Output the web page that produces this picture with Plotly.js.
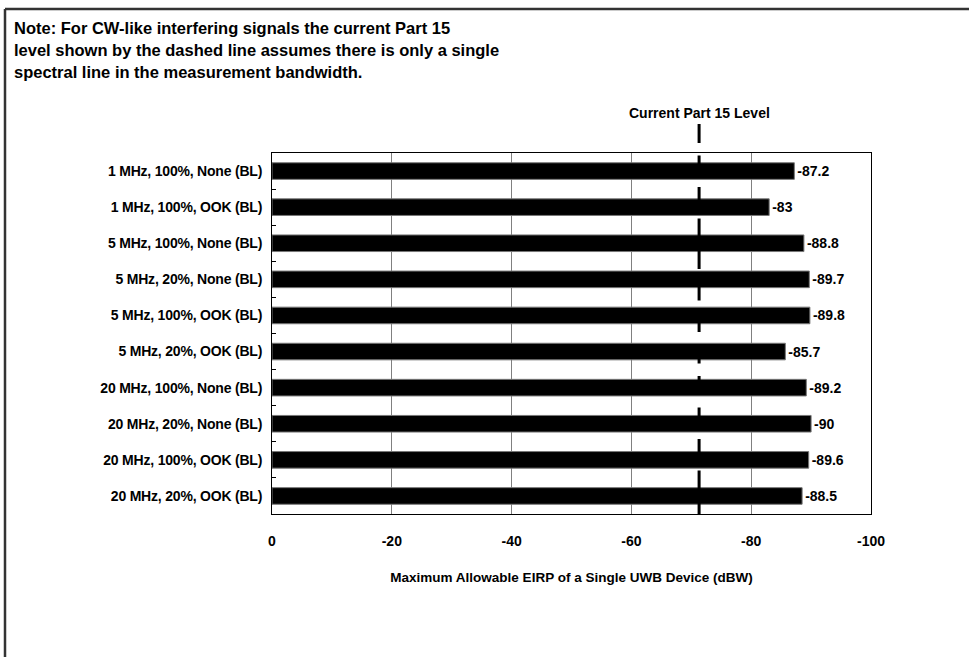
<!DOCTYPE html>
<html>
<head>
<meta charset="utf-8">
<script src="https://cdn.plot.ly/plotly-3.0.1.min.js"></script>
<style>
html,body{margin:0;padding:0;background:#fff;}
#chart{width:969px;height:657px;}
#chart .ytick text{letter-spacing:-0.2px;}
</style>
</head>
<body>
<div id="chart"></div>
<script>
// ---- data ----
const categories = [
  "1 MHz, 100%, None (BL)",
  "1 MHz, 100%, OOK (BL)",
  "5 MHz, 100%, None (BL)",
  "5 MHz, 20%, None (BL)",
  "5 MHz, 100%, OOK (BL)",
  "5 MHz, 20%, OOK (BL)",
  "20 MHz, 100%, None (BL)",
  "20 MHz, 20%, None (BL)",
  "20 MHz, 100%, OOK (BL)",
  "20 MHz, 20%, OOK (BL)"
];
const eirpValues = [-87.2, -83, -88.8, -89.7, -89.8, -85.7, -89.2, -90, -89.6, -88.5];
const part15Level = -71.3;
const xTickValues = [0, -20, -40, -60, -80, -100];
const xTickLabels = ["0", "-20", "-40", "-60", "-80", "-100"];
const noteLines = [
  "Note: For CW-like interfering signals the current Part 15",
  "level shown by the dashed line assumes there is only a single",
  "spectral line in the measurement bandwidth."
];
const part15Label = "Current Part 15 Level";
const xTitle = "Maximum Allowable EIRP of a Single UWB Device (dBW)";

// ---- layout helpers (pixel -> paper) ----
const W = 969, H = 657;
const L = 272, R = 871, T = 153, B = 514;
const px = x => (x - L) / (R - L);
const py = y => (B - y) / (B - T);

const FAM = '"Liberation Sans", Arial, sans-serif';
const bold = size => ({family: FAM, size: size, color: '#000', weight: 'bold'});

const trace = {
  type: 'bar',
  orientation: 'h',
  y: categories,
  x: eirpValues,
  width: 0.46,
  marker: {color: '#000', line: {color: '#777', width: 1}},
  text: eirpValues.map(v => String(v)),
  textposition: 'outside',
  constraintext: 'none',
  cliponaxis: false,
  textfont: bold(14),
  hoverinfo: 'skip'
};

const annotations = noteLines.map((t, i) => ({
  text: t, xref: 'paper', yref: 'paper',
  x: px(12), y: py(28 + 22 * i), xanchor: 'left', yanchor: 'middle',
  showarrow: false, font: bold(16.5)
}));
annotations.push({
  text: part15Label, xref: 'x', yref: 'paper',
  x: part15Level, y: py(113), xanchor: 'center', yanchor: 'middle',
  showarrow: false, font: bold(14)
});

const shapes = [
  {type: 'line', xref: 'paper', yref: 'paper', x0: px(5), x1: px(969), y0: py(9), y1: py(9),
   line: {color: '#333', width: 2.5}},
  {type: 'line', xref: 'paper', yref: 'paper', x0: px(5), x1: px(5), y0: py(9), y1: py(657),
   line: {color: '#333', width: 2.5}},
  {type: 'line', xref: 'x', yref: 'paper', x0: part15Level, x1: part15Level, y0: py(124), y1: 0,
   line: {color: '#000', width: 3, dash: '19px,12.5px'}, layer: 'above'}
];

const layout = {
  width: W, height: H,
  margin: {l: L, r: W - R, t: T, b: H - B, pad: 0},
  paper_bgcolor: '#fff', plot_bgcolor: '#fff',
  font: bold(12),
  showlegend: false,
  xaxis: {
    range: [0, -100],
    tickvals: xTickValues, ticktext: xTickLabels,
    showgrid: true, gridcolor: '#808080', gridwidth: 1,
    zeroline: false,
    showline: true, linecolor: '#000', linewidth: 1, mirror: true,
    ticks: '', ticklabelstandoff: 14,
    tickfont: bold(14),
    title: {text: xTitle, standoff: 24, font: bold(13.5)},
    fixedrange: true
  },
  yaxis: {
    type: 'category',
    autorange: 'reversed',
    showgrid: false, zeroline: false,
    showline: true, linecolor: '#000', linewidth: 1, mirror: true,
    ticks: 'inside', ticklen: 4, tickcolor: '#000', tickson: 'boundaries',
    ticklabelstandoff: 6,
    tickfont: bold(14),
    fixedrange: true
  },
  annotations: annotations,
  shapes: shapes
};

Plotly.newPlot('chart', [trace], layout, {displayModeBar: false, staticPlot: true});
</script>
</body>
</html>
